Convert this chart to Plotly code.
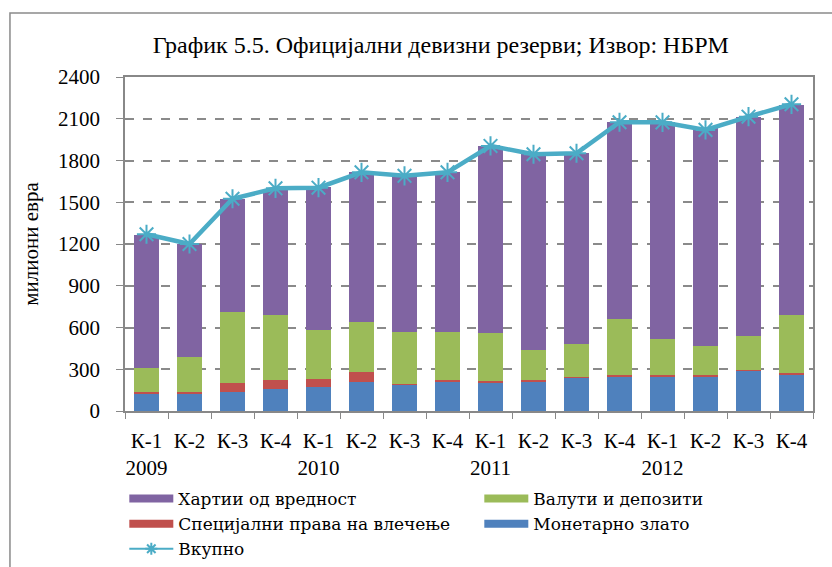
import plotly.graph_objects as go

quarters = ["К-1<br>2009", "К-2", "К-3", "К-4",
            "К-1<br>2010", "К-2", "К-3", "К-4",
            "К-1<br>2011", "К-2", "К-3", "К-4",
            "К-1<br>2012", "К-2", "К-3", "К-4"]
# unique category keys (labels repeat)
cat_keys = ["q1-2009", "q2-2009", "q3-2009", "q4-2009",
            "q1-2010", "q2-2010", "q3-2010", "q4-2010",
            "q1-2011", "q2-2011", "q3-2011", "q4-2011",
            "q1-2012", "q2-2012", "q3-2012", "q4-2012"]

monetary_gold = [128, 125, 137, 161, 175, 209, 190, 209, 207, 211, 240, 247, 247, 247, 291, 262]
sdr = [11, 12, 65, 63, 56, 74, 7, 17, 7, 15, 7, 15, 15, 15, 7, 14]
currency_deposits = [173, 248, 512, 468, 353, 359, 373, 344, 348, 209, 237, 401, 257, 207, 243, 416]
securities = [950, 812, 806, 894, 1024, 1072, 1112, 1150, 1341, 1416, 1371, 1416, 1555, 1562, 1574, 1507]
total = [1270, 1200, 1525, 1600, 1605, 1715, 1690, 1715, 1905, 1845, 1852, 2075, 2074, 2020, 2115, 2204]

names = ["Хартии од вредност", "Валути и депозити", "Специјални права на влечење", "Монетарно злато", "Вкупно"]
C_PURPLE = "#8064A2"
C_GREEN = "#9BBB59"
C_RED = "#C0504D"
C_BLUE = "#4F81BD"
C_TEAL = "#4BACC6"

FONT = "Liberation Serif"
LFONT = "DejaVu Serif"

fig = go.Figure()
for vals, col in [(monetary_gold, C_BLUE), (sdr, C_RED), (currency_deposits, C_GREEN), (securities, C_PURPLE)]:
    fig.add_trace(go.Bar(x=cat_keys, y=vals, marker=dict(color=col, line=dict(width=0)),
                         showlegend=False))

fig.add_trace(go.Scatter(x=cat_keys, y=total, mode="lines+markers",
                         line=dict(color=C_TEAL, width=4.5),
                         marker=dict(symbol="asterisk-open", size=16, color=C_TEAL,
                                     line=dict(color=C_TEAL, width=2)),
                         showlegend=False))

# legend entries (no visible data; legend swatches only)
legend_specs = [(names[0], C_PURPLE), (names[1], C_GREEN), (names[2], C_RED), (names[3], C_BLUE)]
for nm, col in legend_specs:
    fig.add_trace(go.Scatter(x=[cat_keys[0]], y=[None], mode="lines", name=nm,
                             line=dict(color=col, width=8)))
fig.add_trace(go.Scatter(x=[cat_keys[0]], y=[None], mode="lines+markers", name=names[4],
                         line=dict(color=C_TEAL, width=2),
                         marker=dict(symbol="asterisk-open", size=10, color=C_TEAL,
                                     line=dict(color=C_TEAL, width=2))))

fig.update_layout(
    width=832, height=567,
    barmode="stack", bargap=0.44,
    plot_bgcolor="white", paper_bgcolor="white",
    margin=dict(l=125, r=19, t=77, b=156, autoexpand=False),
    font=dict(family=FONT, size=21, color="#000000"),
    title=dict(text="График 5.5. Официјални девизни резерви; Извор: НБРМ",
               x=0.459, xref="paper", xanchor="center",
               y=1 - 45 / 567, yref="container", yanchor="middle",
               font=dict(family=FONT, size=24, color="#000000")),
    xaxis=dict(type="category", categoryorder="array", categoryarray=cat_keys,
               range=[-0.5, len(cat_keys) - 0.5],
               tickmode="array", tickvals=cat_keys, ticktext=quarters,
               tickson="boundaries", ticks="outside", ticklen=6, tickcolor="#888888",
               showline=True, linecolor="#888888", linewidth=1.5, mirror=True,
               showgrid=False, ticklabelstandoff=10, tickangle=0, automargin=False,
               tickfont=dict(family=FONT, size=21)),
    yaxis=dict(range=[0, 2400], tickvals=[0, 300, 600, 900, 1200, 1500, 1800, 2100, 2400],
               ticks="outside", ticklen=7, tickcolor="#888888",
               showline=True, linecolor="#888888", linewidth=1.5, mirror=True,
               showgrid=True, gridcolor="#8a8a8a", gridwidth=1.5, griddash="dash",
               zeroline=False, ticklabelstandoff=12, automargin=False,
               title=dict(text="милиони евра", standoff=14, font=dict(family=FONT, size=21)),
               tickfont=dict(family=FONT, size=21)),
    legend=dict(orientation="h", x=-0.001, xanchor="left",
                y=(411 - 481) / 334, yanchor="top",
                entrywidth=296, font=dict(family=LFONT, size=17), indentation=0,
                traceorder="normal",
                itemwidth=44, tracegroupgap=0, bgcolor="rgba(0,0,0,0)"),
    shapes=[dict(type="rect", xref="paper", yref="paper",
                 x0=-0.1672, x1=1.2, y0=-1.0, y1=1.1916,
                 line=dict(color="#8a8a8a", width=1.5), layer="below")],
)

fig.write_html("out.html", config={"displayModeBar": False},
               post_script="document.body.style.margin='0';")
